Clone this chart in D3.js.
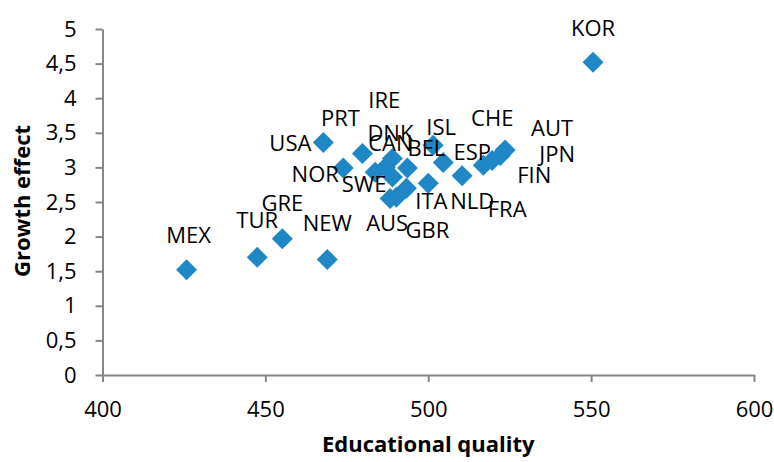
<!DOCTYPE html>
<html>
<head>
<meta charset="utf-8">
<script src="https://cdn.jsdelivr.net/npm/d3@7"></script>
<style>
  body { margin: 0; background: #fff; }
  text { font-family: "Open Sans", "Liberation Sans", sans-serif; }
</style>
</head>
<body>
<div id="chart"></div>
<script>
// countries, educational quality (x) and growth effect (y)
const countries = ["KOR", "MEX", "TUR", "GRE", "NEW", "USA", "PRT", "NOR", "DNK", "SWE", "IRE", "CAN",
  "BEL", "ITA", "AUS", "GBR", "ISL", "ESP", "FRA", "NLD", "FIN", "JPN", "CHE", "AUT"];
const quality = [550.6, 425.8, 447.5, 455.2, 469.0, 467.8, 479.8, 473.9, 489.0, 483.7, 486.8, 489.0,
  493.6, 493.3, 488.3, 490.2, 501.5, 504.6, 510.4, 500.0, 516.9, 519.6, 522.1, 523.6];
const growth = [4.52, 1.52, 1.70, 1.97, 1.67, 3.36, 3.20, 2.99, 3.13, 2.93, 3.00, 2.86,
  2.99, 2.70, 2.55, 2.57, 3.32, 3.07, 2.88, 2.77, 3.03, 3.10, 3.17, 3.25];
const xTicks = [400, 450, 500, 550, 600];
const yTicks = [0, 0.5, 1, 1.5, 2, 2.5, 3, 3.5, 4, 4.5, 5];

// where each data label sits relative to its marker (pixels)
const labelOffsets = {
  KOR: [0, -34], MEX: [2, -35], TUR: [0, -37], GRE: [0, -36], NEW: [0, -36],
  USA: [-33, 1], PRT: [-22, -35], NOR: [-28, 6], DNK: [-2, -25], SWE: [-11, 12],
  IRE: [-1, -67], CAN: [-2, -34], BEL: [19, -20], ITA: [25, 13], AUS: [-3, 25],
  GBR: [31, 33], ISL: [8, -18], ESP: [29, -10], FRA: [45, 33], NLD: [44, 18],
  FIN: [51, 10], JPN: [65, -6], CHE: [-8, -38], AUT: [47, -22]
};

const width = 774;
const height = 462;
const margin = { top: 29, right: 20, bottom: 87, left: 102.5 };
const axisColor = "#868686";
const markerColor = "#1f87c6";

const svg = d3.select("#chart")
  .append("svg")
  .attr("width", width)
  .attr("height", height);

const xScale = d3.scaleLinear()
  .domain([400, 600])
  .range([margin.left, width - margin.right]);

const yScale = d3.scaleLinear()
  .domain([0, 5])
  .range([height - margin.bottom, margin.top]);

const fmt = d3.format(",");
const commaDecimal = (d) => fmt(d).replace(".", ",");

const xAxis = svg.append("g")
  .attr("transform", "translate(0," + (height - margin.bottom) + ")")
  .call(d3.axisBottom(xScale).tickValues(xTicks).tickSizeInner(7).tickSizeOuter(0).tickPadding(19));

const yAxis = svg.append("g")
  .attr("transform", "translate(" + margin.left + ",0)")
  .call(d3.axisLeft(yScale).tickValues(yTicks).tickFormat(commaDecimal)
    .tickSizeInner(7).tickSizeOuter(0).tickPadding(19));

[xAxis, yAxis].forEach((g) => {
  g.select(".domain").attr("stroke", axisColor).attr("stroke-width", 2);
  g.selectAll(".tick line").attr("stroke", axisColor).attr("stroke-width", 2);
  g.selectAll(".tick text")
    .attr("fill", "#000")
    .style("font-size", "22px")
    .style("font-family", "'Open Sans', sans-serif");
});

// markers: squares turned 45 degrees
const diamond = d3.symbol(d3.symbolSquare, 220);

svg.append("g")
  .selectAll("path")
  .data(countries)
  .enter()
  .append("path")
  .attr("d", diamond)
  .attr("transform", (d, i) => "translate(" + xScale(quality[i]) + "," + yScale(growth[i]) + ") rotate(45)")
  .attr("fill", markerColor);

svg.append("g")
  .selectAll("text")
  .data(countries)
  .enter()
  .append("text")
  .attr("x", (d, i) => xScale(quality[i]) + labelOffsets[d][0])
  .attr("y", (d, i) => yScale(growth[i]) + labelOffsets[d][1])
  .attr("dy", "0.36em")
  .attr("text-anchor", "middle")
  .style("font-size", "22px")
  .attr("fill", "#000")
  .text((d) => d);

svg.append("text")
  .attr("x", (xScale(400) + xScale(600)) / 2)
  .attr("y", 444)
  .attr("dy", "0.36em")
  .attr("text-anchor", "middle")
  .style("font-size", "22px")
  .style("font-weight", "bold")
  .text("Educational quality");

svg.append("text")
  .attr("transform", "translate(22," + 201 + ") rotate(-90)")
  .attr("dy", "0.36em")
  .attr("text-anchor", "middle")
  .style("font-size", "22px")
  .style("font-weight", "bold")
  .text("Growth effect");
</script>
</body>
</html>
